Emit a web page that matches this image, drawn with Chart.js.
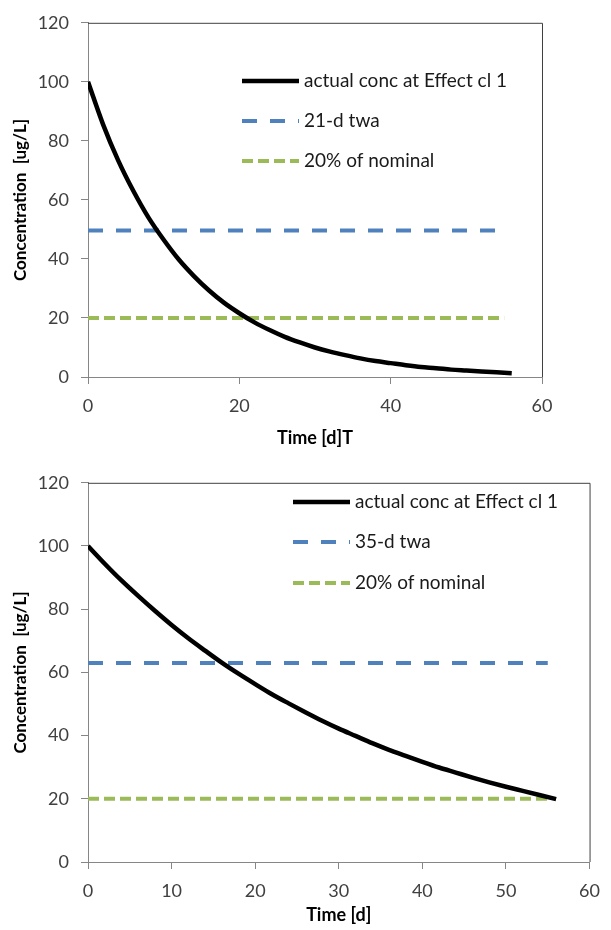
<!DOCTYPE html>
<html><head><meta charset="utf-8">
<script src="https://cdn.jsdelivr.net/npm/chart.js@4.4.1/dist/chart.umd.min.js"></script>
<style>html,body{margin:0;padding:0;background:#fff;}canvas{display:block;}</style>
</head><body>
<canvas id="c1" width="611" height="460"></canvas>
<canvas id="c2" width="611" height="470"></canvas>
<script>
// ---- data ----
const days = [0,2,4,6,8,10,12,14,16,18,20,22,24,26,28,30,32,34,36,38,40,42,44,46,48,50,52,54,56];
const actualConcTop = [100,85.5,73.3,63.0,54.0,46.5,39.8,34.2,29.3,25.1,21.6,18.5,15.9,13.6,11.7,10.0,8.6,7.4,6.3,5.4,4.7,4.0,3.4,3.0,2.5,2.2,1.9,1.6,1.3];
const actualConcBottom = [100,94.4,89.1,84.2,79.5,75.0,70.8,66.9,63.1,59.6,56.3,53.1,50.2,47.4,44.7,42.2,39.9,37.6,35.5,33.6,31.7,29.9,28.3,26.7,25.2,23.8,22.5,21.2,19.9];
const refDays = [0, 55];
const twa21 = [49.6, 49.6];
const twa35 = [63, 63];
const nominal20 = [20, 20];
const labelsTop = ['actual conc at Effect cl 1', '21-d twa', '20% of nominal'];
const labelsBottom = ['actual conc at Effect cl 1', '35-d twa', '20% of nominal'];
const yTitle = 'Concentration  [ug/L]';
const xTitleTop = 'Time [d]T';
const xTitleBottom = 'Time [d]';

const pts = (xs, ys) => xs.map((x, i) => ({x, y: ys[i]}));
const FONT = 'Lato, "Open Sans", sans-serif';

const framePlugin = {
  id: 'frame',
  beforeDatasetsDraw(chart) {
    const {ctx, chartArea: a} = chart;
    ctx.save();
    ctx.strokeStyle = '#404040';
    ctx.lineWidth = 1;
    ctx.beginPath();
    ctx.moveTo(a.left, a.top + 0.5);
    ctx.lineTo(a.right + 0.5, a.top + 0.5);
    ctx.lineTo(a.right + 0.5, a.bottom);
    ctx.stroke();
    ctx.restore();
  }
};

const insideLegend = {
  id: 'insideLegend',
  afterDatasetsDraw(chart, args, opts) {
    const {ctx} = chart;
    ctx.save();
    chart.data.datasets.forEach((ds, i) => {
      const y = opts.ys[i];
      ctx.strokeStyle = ds.borderColor;
      ctx.lineWidth = ds.borderWidth;
      ctx.setLineDash(ds.borderDash || []);
      ctx.beginPath();
      ctx.moveTo(opts.x0, y);
      ctx.lineTo(opts.x1, y);
      ctx.stroke();
      ctx.setLineDash([]);
      ctx.fillStyle = '#1a1a1a';
      ctx.font = '19px ' + FONT;
      ctx.textBaseline = 'middle';
      ctx.textAlign = 'left';
      ctx.fillText(ds.label, opts.textX, y);
    });
    ctx.restore();
  }
};

function makeChart(id, conc, twa, labels, xStep, xTitle, xTitlePadBottom, xAxisHeight, padding, legendOpts) {
  return new Chart(document.getElementById(id), {
    type: 'line',
    data: {
      datasets: [
        {label: labels[0], data: pts(days, conc), borderColor: '#000000', borderWidth: 4.5,
         pointRadius: 0, cubicInterpolationMode: 'monotone', fill: false},
        {label: labels[1], data: pts(refDays, twa), borderColor: '#4f81bd', borderWidth: 4,
         borderDash: [15, 13], pointRadius: 0, fill: false},
        {label: labels[2], data: pts(refDays, nominal20), borderColor: '#9bbb59', borderWidth: 4,
         borderDash: [11, 5], pointRadius: 0, fill: false}
      ]
    },
    options: {
      responsive: false,
      animation: false,
      devicePixelRatio: 1,
      layout: {padding},
      plugins: {legend: {display: false}, tooltip: {enabled: false}, insideLegend: legendOpts},
      scales: {
        x: {
          type: 'linear', min: 0, max: 60,
          afterFit(s) { s.height = xAxisHeight; },
          ticks: {stepSize: xStep, padding: 11, color: '#404040', font: {family: FONT, size: 18}},
          grid: {drawOnChartArea: false, drawTicks: true, tickLength: 7, color: '#868686'},
          border: {display: true, color: '#868686'},
          title: {display: true, text: xTitle, color: '#000', font: {family: FONT, size: 18, weight: 'bold'},
                  padding: {top: 0, bottom: xTitlePadBottom}}
        },
        y: {
          type: 'linear', min: 0, max: 120,
          afterFit(s) { s.width = 88; },
          ticks: {stepSize: 20, padding: 12, color: '#404040', font: {family: FONT, size: 18}},
          grid: {drawOnChartArea: false, drawTicks: true, tickLength: 7, color: '#868686'},
          border: {display: true, color: '#868686'},
          title: {display: true, text: yTitle, color: '#000', font: {family: FONT, size: 17, weight: 'bold'},
                  padding: {top: 10, bottom: 0}}
        }
      }
    },
    plugins: [framePlugin, insideLegend]
  });
}

makeChart('c1', actualConcTop, twa21, labelsTop, 20, xTitleTop, 11, 83,
  {top: 19, right: 69, left: 0, bottom: 0},
  {x0: 242, x1: 299, textX: 304, ys: [81, 121, 161]});
makeChart('c2', actualConcBottom, twa35, labelsBottom, 10, xTitleBottom, 4, 68,
  {top: 10, right: 13, left: 0, bottom: 0},
  {x0: 293, x1: 350, textX: 355, ys: [42, 82, 123]});
</script>
</body></html>
